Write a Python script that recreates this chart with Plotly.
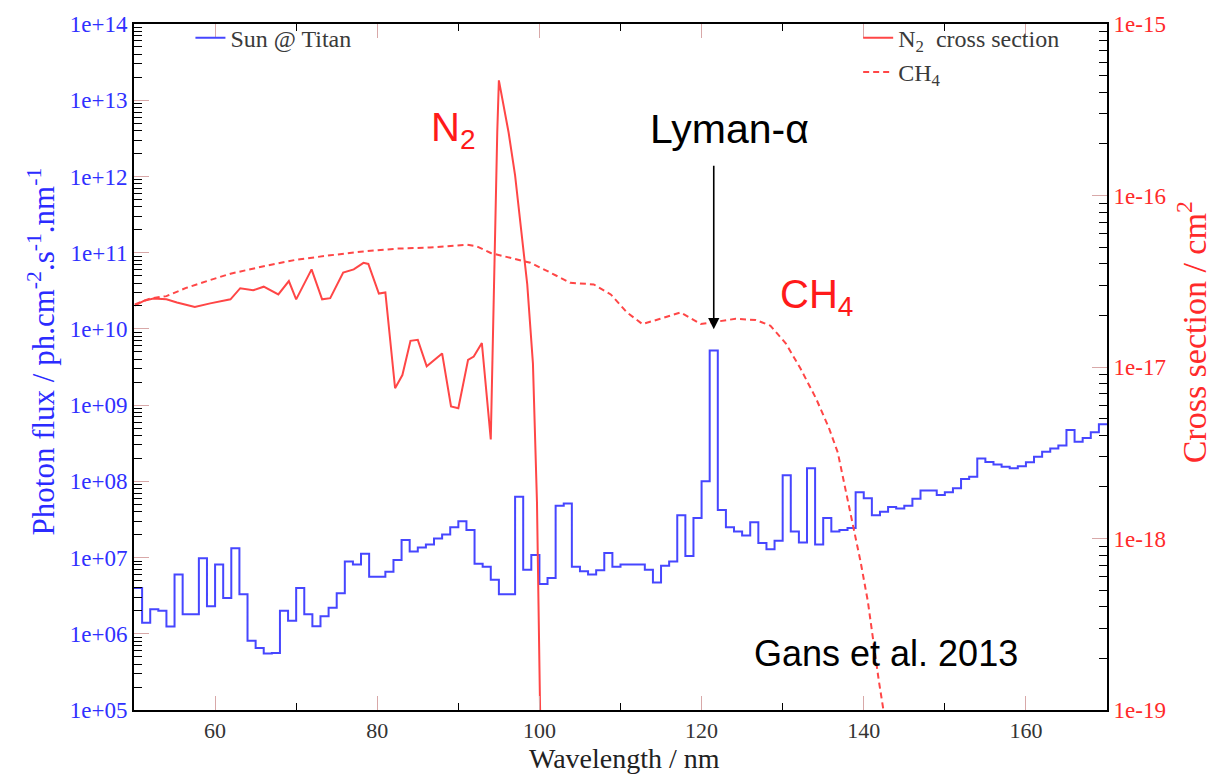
import plotly.graph_objects as go

# ---------------- data ----------------
# Solar photon flux at Titan, 1 nm bins starting at 50 nm (ph cm-2 s-1 nm-1)
flux_bin_start_nm = list(range(50, 171))
sun_flux = [
    4.0e6, 1.4e6, 2.1e6, 2.0e6, 1.25e6, 6.0e6, 1.8e6, 1.8e6, 9.8e6, 2.3e6,      # 50-59
    8.1e6, 2.95e6, 1.32e7, 3.3e6, 8.1e5, 6.5e5, 5.5e5, 5.6e5, 2.0e6, 1.48e6,    # 60-69
    4.0e6, 1.8e6, 1.26e6, 1.7e6, 2.2e6, 3.4e6, 8.9e6, 8.1e6, 1.12e7, 5.6e6,     # 70-79
    5.6e6, 6.5e6, 9.3e6, 1.7e7, 1.2e7, 1.35e7, 1.48e7, 1.78e7, 2.0e7, 2.5e7,    # 80-89
    3.0e7, 2.3e7, 8.3e6, 7.6e6, 5.1e6, 3.3e6, 3.3e6, 6.3e7, 6.9e6, 1.08e7,      # 90-99
    4.5e6, 5.4e6, 4.8e7, 5.1e7, 7.6e6, 6.6e6, 6.0e6, 6.8e6, 1.15e7, 7.6e6,      # 100-109
    8.1e6, 8.1e6, 8.1e6, 6.9e6, 4.7e6, 7.8e6, 8.9e6, 3.6e7, 1.05e7, 3.3e7,      # 110-119
    1.0e8, 5.2e9, 4.2e7, 2.5e7, 2.2e7, 1.95e7, 2.9e7, 1.55e7, 1.29e7, 1.66e7,   # 120-129
    1.2e8, 2.2e7, 1.58e7, 1.48e8, 1.48e7, 3.3e7, 2.2e7, 2.3e7, 2.45e7, 7.2e7,   # 130-139
    6.0e7, 3.6e7, 4.0e7, 4.6e7, 4.4e7, 4.8e7, 5.9e7, 7.6e7, 7.6e7, 6.6e7,      # 140-149
    7.2e7, 8.1e7, 1.07e8, 1.15e8, 2.0e8, 1.8e8, 1.66e8, 1.55e8, 1.48e8, 1.58e8, # 150-159
    1.78e8, 2.1e8, 2.45e8, 2.7e8, 2.95e8, 4.7e8, 3.3e8, 3.7e8, 4.4e8, 5.6e8,    # 160-169
]

# N2 absorption cross section (cm2)
n2_wl = [50.1, 51.2, 52.4, 54.0, 55.3, 57.5, 59.4, 61.9, 63.1, 64.7, 66.0, 67.8,
         69.1, 70.0, 71.9, 73.2, 74.2, 75.8, 77.1, 78.3, 78.9, 80.2, 81.0, 82.2,
         83.1, 84.1, 85.0, 86.1, 88.0, 89.1, 90.0, 91.2, 91.9, 92.9, 94.0, 94.6,
         94.8, 95.0, 95.2, 96.2, 97.0, 97.65, 98.5, 99.2, 99.7, 100.1]
n2_sigma = [2.28e-17, 2.43e-17, 2.51e-17, 2.48e-17, 2.38e-17, 2.24e-17, 2.35e-17,
            2.48e-17, 2.88e-17, 2.80e-17, 2.94e-17, 2.65e-17, 3.17e-17, 2.48e-17,
            3.71e-17, 2.48e-17, 2.52e-17, 3.55e-17, 3.71e-17, 4.05e-17, 3.99e-17,
            2.68e-17, 2.72e-17, 7.52e-18, 8.97e-18, 1.42e-17, 1.44e-17, 1.01e-17,
            1.20e-17, 5.89e-18, 5.75e-18, 1.10e-17, 1.15e-17, 1.38e-17, 3.78e-18,
            1.05e-16, 2.33e-16, 4.69e-16, 4.14e-16, 2.33e-16, 1.31e-16, 6.73e-17,
            3.03e-17, 1.05e-17, 1.62e-18, 8.9e-20]

# CH4 absorption cross section (cm2)
ch4_wl = [50.1, 52.0, 54.0, 56.5, 59.0, 61.9, 66.0, 70.1, 74.2, 78.3, 82.4, 86.5,
          91.1, 92.3, 94.0, 96.4, 98.9, 101.0, 103.8, 106.7, 108.8, 110.8, 112.7,
          114.9, 117.4, 119.9, 121.7, 124.2, 126.7, 128.5, 130.4, 132.2, 134.1,
          135.7, 136.8, 138.0, 138.8, 139.6, 140.5, 141.1, 141.85, 142.5]
ch4_sigma = [2.32e-17, 2.51e-17, 2.59e-17, 2.90e-17, 3.17e-17, 3.50e-17, 3.87e-17,
             4.23e-17, 4.48e-17, 4.72e-17, 4.90e-17, 4.98e-17, 5.16e-17, 5.05e-17,
             4.62e-17, 4.33e-17, 4.05e-17, 3.62e-17, 3.10e-17, 3.03e-17, 2.65e-17,
             2.08e-17, 1.78e-17, 1.91e-17, 2.08e-17, 1.78e-17, 1.83e-17, 1.91e-17,
             1.88e-17, 1.74e-17, 1.37e-17, 9.79e-18, 6.58e-18, 4.42e-18, 3.17e-18,
             1.69e-18, 1.14e-18, 7.35e-19, 4.32e-19, 2.64e-19, 1.49e-19, 9.5e-20]

x_ticks = [60, 80, 100, 120, 140, 160]
x_minor_ticks = [50, 70, 90, 110, 130, 150, 170]
left_exponents = [5, 6, 7, 8, 9, 10, 11, 12, 13, 14]
left_ticktext = ["1e+05", "1e+06", "1e+07", "1e+08", "1e+09", "1e+10",
                 "1e+11", "1e+12", "1e+13", "1e+14"]
right_exponents = [-19, -18, -17, -16, -15]
right_ticktext = ["1e-19", "1e-18", "1e-17", "1e-16", "1e-15"]
mantissas = [2, 3, 4, 5, 6, 7, 8, 9]

left_ticks = [10.0 ** e for e in left_exponents]
right_ticks = [10.0 ** e for e in right_exponents]
left_minor = [m * 10.0 ** e for e in left_exponents[:-1] for m in mantissas]
right_minor = [m * 10.0 ** e for e in right_exponents[:-1] for m in mantissas]

# ---------------- figure ----------------
BLUE = "#4646ff"
RED = "#ff4646"
SERIF = "Liberation Serif"
SANS = "Liberation Sans"

fig = go.Figure()

step_y = sun_flux + [sun_flux[-1]]
fig.add_trace(go.Scatter(x=flux_bin_start_nm, y=step_y, mode="lines",
                         line=dict(color=BLUE, width=2, shape="hv"),
                         name="Sun @ Titan", yaxis="y", legend="legend"))
fig.add_trace(go.Scatter(x=n2_wl, y=n2_sigma, mode="lines",
                         line=dict(color=RED, width=2),
                         name="N<sub>2</sub>  cross section", yaxis="y2", legend="legend2"))
fig.add_trace(go.Scatter(x=ch4_wl, y=ch4_sigma, mode="lines",
                         line=dict(color=RED, width=2, dash="6px,4px"),
                         name="CH<sub>4</sub>", yaxis="y2", legend="legend2"))

fig.update_layout(
    width=1216, height=774,
    margin=dict(l=134, r=109, t=17, b=64),
    paper_bgcolor="white", plot_bgcolor="white",
    xaxis=dict(range=[50, 170], tickvals=x_ticks, ticks="inside", ticklen=14,
               tickcolor="#d8a8a8", tickwidth=1,
               minor=dict(tickvals=x_minor_ticks, ticks="inside", ticklen=7,
                          tickcolor="black", tickwidth=1, showgrid=False),
               showline=True, linecolor="black", linewidth=2, mirror="ticks",
               showgrid=False, zeroline=False,
               tickfont=dict(family=SERIF, size=22, color="#333333")),
    yaxis=dict(type="log", range=[5, 14], tickvals=left_ticks, ticktext=left_ticktext,
               ticks="inside", ticklen=15, tickcolor="#d8a8a8", tickwidth=1,
               minor=dict(tickvals=left_minor, ticks="inside", ticklen=8,
                          tickcolor="black", tickwidth=1, showgrid=False),
               showline=True, linecolor="black", linewidth=2,
               showgrid=False, zeroline=False,
               tickfont=dict(family=SERIF, size=23, color="#3030ff")),
    yaxis2=dict(type="log", range=[-19, -15], overlaying="y", side="right",
                tickvals=right_ticks, ticktext=right_ticktext,
                ticks="inside", ticklen=15, tickcolor="#d8a8a8", tickwidth=1,
                minor=dict(tickvals=right_minor, ticks="inside", ticklen=8,
                           tickcolor="black", tickwidth=1, showgrid=False),
                showline=True, linecolor="black", linewidth=2,
                showgrid=False, zeroline=False,
                tickfont=dict(family=SERIF, size=23, color="#ff2a2a")),
    legend=dict(x=0.058, y=1.012, xanchor="left", yanchor="top",
                bgcolor="rgba(0,0,0,0)", font=dict(family=SERIF, size=24, color="#3a3a3a")),
    legend2=dict(x=0.957, y=1.012, xanchor="right", yanchor="top",
                 bgcolor="rgba(0,0,0,0)", font=dict(family=SERIF, size=24, color="#3a3a3a"),
                 tracegroupgap=0),
    showlegend=True,
)

annotations = [
    # axis titles
    dict(text="Photon flux / ph.cm<sup>-2</sup>.s<sup>-1</sup>.nm<sup>-1</sup>",
         x=-0.095, y=0.522, xref="paper", yref="paper", xanchor="center", yanchor="middle",
         showarrow=False, textangle=-90,
         font=dict(family=SERIF, size=31, color="#2b2bff")),
    dict(text="Cross section / cm<sup>2</sup>",
         x=1.087, y=0.55, xref="paper", yref="paper", xanchor="center", yanchor="middle",
         showarrow=False, textangle=-90,
         font=dict(family=SERIF, size=34, color="#ff2a2a")),
    dict(text="Wavelength / nm", x=0.504, y=-0.0705, xref="paper", yref="paper",
         xanchor="center", yanchor="middle",
         showarrow=False, font=dict(family=SERIF, size=28, color="#222222")),
    # in-plot labels
    dict(text="N<sub>2</sub>", x=0.3275, y=0.845, xref="paper", yref="paper",
         xanchor="center", yanchor="middle",
         showarrow=False, font=dict(family=SANS, size=40, color="#ff1a1a")),
    dict(text="Lyman-α", x=0.6125, y=0.847, xref="paper", yref="paper",
         xanchor="center", yanchor="middle",
         showarrow=False, font=dict(family=SANS, size=41, color="black")),
    dict(text="CH<sub>4</sub>", x=0.7015, y=0.602, xref="paper", yref="paper",
         xanchor="center", yanchor="middle",
         showarrow=False, font=dict(family=SANS, size=40, color="#ff1a1a")),
    dict(text="Gans et al. 2013", x=0.773, y=0.083, xref="paper", yref="paper",
         xanchor="center", yanchor="middle",
         showarrow=False, font=dict(family=SANS, size=36, color="black")),
    # Lyman-alpha arrow
    dict(text="", x=121.5, y=-16.78, xref="x", yref="y2", showarrow=True,
         ax=0, ay=-165, axref="pixel", ayref="pixel",
         arrowhead=2, arrowsize=1.4, arrowwidth=1.6, arrowcolor="black"),
]
fig.update_layout(annotations=annotations)

fig.write_html("out.html")
